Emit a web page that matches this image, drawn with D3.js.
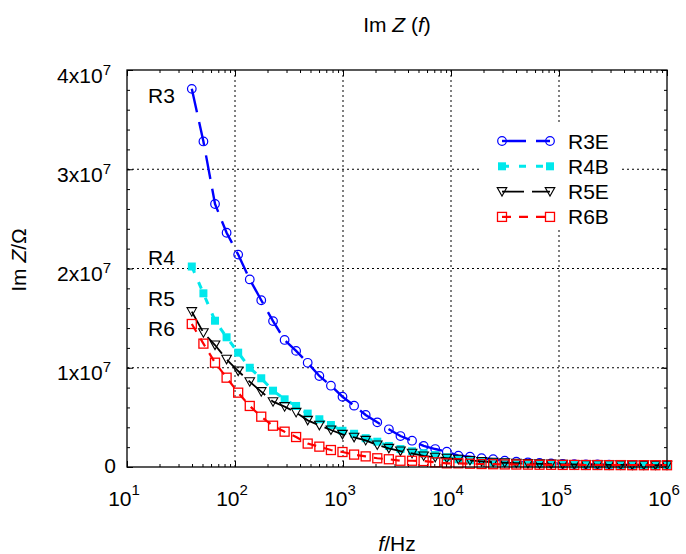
<!DOCTYPE html>
<html><head><meta charset="utf-8">
<script src="https://cdn.jsdelivr.net/npm/d3@7"></script>
<style>
html,body{margin:0;padding:0;background:#fff;}
text{font-family:Arial,"Liberation Sans",sans-serif;fill:#000;}
</style></head>
<body><div id="chart"></div>
<script>
// ---- data ----
const freqs = [39.8, 51.0, 65.3, 83.6, 107, 137, 175, 225, 288, 368, 471, 604, 773, 989,
  1267, 1622, 2077, 2659, 3404, 4359, 5581, 7143, 9146, 11710, 14990, 19190, 24570,
  31460, 40270, 51560, 66020, 84530, 108200, 138600, 177400, 227100, 290800, 372300,
  476700, 610300, 781400, 1000000];
// values in units of 1e7 Ohm
const r3e = [3.81, 3.28, 2.65, 2.36, 2.14, 1.89, 1.68, 1.47, 1.28, 1.17, 1.05, 0.917, 0.819, 0.708,
  0.618, 0.524, 0.450, 0.380, 0.312, 0.265, 0.212, 0.181, 0.154, 0.114, 0.104, 0.088, 0.078,
  0.063, 0.053, 0.047, 0.041, 0.036, 0.032, 0.029, 0.027, 0.025, 0.023, 0.022, 0.021, 0.020, 0.019, 0.018];
const r4b = [2.02, 1.75, 1.474, 1.307, 1.152, 1.00, 0.894, 0.769, 0.682, 0.615, 0.538, 0.481, 0.423, 0.365,
  0.335, 0.290, 0.255, 0.212, 0.181, 0.158, 0.138, 0.121, 0.098, 0.078, 0.068, 0.058, 0.050,
  0.045, 0.040, 0.036, 0.033, 0.030, 0.028, 0.026, 0.025, 0.024, 0.023, 0.022, 0.021, 0.020, 0.020, 0.019];
const r5e = [1.565, 1.353, 1.229, 1.085, 0.967, 0.859, 0.759, 0.658, 0.608, 0.550, 0.470, 0.420, 0.373, 0.329,
  0.299, 0.268, 0.222, 0.188, 0.161, 0.138, 0.111, 0.098, 0.088, 0.078, 0.066, 0.056, 0.048,
  0.043, 0.038, 0.034, 0.031, 0.029, 0.027, 0.025, 0.024, 0.023, 0.022, 0.021, 0.020, 0.019, 0.019, 0.018];
const r6b = [1.441, 1.243, 1.051, 0.900, 0.749, 0.615, 0.507, 0.416, 0.356, 0.302, 0.236, 0.205, 0.171, 0.151,
  0.125, 0.107, 0.088, 0.078, 0.063, 0.063, 0.060, 0.047, 0.037, 0.037, 0.033, 0.030, 0.028,
  0.026, 0.025, 0.024, 0.023, 0.022, 0.021, 0.021, 0.020, 0.020, 0.019, 0.019, 0.018, 0.018, 0.018, 0.018];
const seriesNames = ["R3E", "R4B", "R5E", "R6B"];
const annotNames = ["R3", "R4", "R5", "R6"];
const annotValues = [3.81, 2.02, 1.565, 1.441];
const xTickValues = [1e1, 1e2, 1e3, 1e4, 1e5, 1e6];
const xTickExps = ["1", "2", "3", "4", "5", "6"];
const yTickValues = [0, 1e7, 2e7, 3e7, 4e7];
const yTickMant = ["0", "1", "2", "3", "4"];
const gridX = [1e2, 1e3, 1e4, 1e5];
const gridY = [1e7, 2e7, 3e7];

// ---- layout ----
const W = 686, H = 554;
const L = 127, R = 667, T = 70, B = 467;
const svg = d3.select("#chart").append("svg").attr("width", W).attr("height", H);
const x = d3.scaleLog().domain([10, 1e6]).range([L, R]);
const y = d3.scaleLinear().domain([0, 4e7]).range([B, T]);

const styles = [
  {color: "#0000ff", width: 2.4, dash: "24,10", marker: "circle"},
  {color: "#00e8ec", width: 3, dash: "7,10", marker: "fsquare"},
  {color: "#000000", width: 1.8, dash: "22,8", marker: "tri"},
  {color: "#ff0000", width: 2.2, dash: "9,8", marker: "osquare"}
];
const allSeries = [r3e, r4b, r5e, r6b].map(arr => arr.map((v, i) => ({f: freqs[i], v: v * 1e7})));

// grid
const g = svg.append("g");
g.selectAll(".gx").data(gridX).enter().append("line")
  .attr("x1", d => x(d)).attr("x2", d => x(d)).attr("y1", T).attr("y2", B)
  .attr("stroke", "#000").attr("stroke-width", 1).attr("stroke-dasharray", "2,3");
g.selectAll(".gy").data(gridY).enter().append("line")
  .attr("x1", L).attr("x2", R).attr("y1", d => y(d)).attr("y2", d => y(d))
  .attr("stroke", "#000").attr("stroke-width", 1).attr("stroke-dasharray", "2,3");

// axes ticks (inward)
const minorX = [];
for (let e = 1; e < 6; e++) for (let k = 2; k <= 9; k++) minorX.push(k * Math.pow(10, e));
const minorY = d3.range(0, 4e7 + 1, 2e6);
function drawAxis(gen, transform) {
  svg.append("g").attr("transform", transform).call(gen)
    .call(s => s.select(".domain").remove())
    .call(s => s.selectAll("line").attr("stroke", "#000").attr("stroke-width", 1))
    .call(s => s.selectAll("text").remove());
}
drawAxis(d3.axisBottom(x).tickValues(minorX).tickSize(-3), `translate(0,${B})`);
drawAxis(d3.axisTop(x).tickValues(minorX).tickSize(-3), `translate(0,${T})`);
drawAxis(d3.axisBottom(x).tickValues(xTickValues).tickSize(-6), `translate(0,${B})`);
drawAxis(d3.axisTop(x).tickValues(xTickValues).tickSize(-6), `translate(0,${T})`);
drawAxis(d3.axisLeft(y).tickValues(minorY).tickSize(-3), `translate(${L},0)`);
drawAxis(d3.axisRight(y).tickValues(minorY).tickSize(-3), `translate(${R},0)`);
drawAxis(d3.axisLeft(y).tickValues(yTickValues).tickSize(-6), `translate(${L},0)`);
drawAxis(d3.axisRight(y).tickValues(yTickValues).tickSize(-6), `translate(${R},0)`);

// series
const line = d3.line().x(d => x(d.f)).y(d => y(d.v));
function drawMarker(sel, type, color) {
  if (type === "circle") {
    sel.append("circle").attr("r", 4.3).attr("fill", "none").attr("stroke", color).attr("stroke-width", 1.2);
  } else if (type === "fsquare") {
    sel.append("rect").attr("x", -4).attr("y", -4).attr("width", 8).attr("height", 8).attr("fill", color);
  } else if (type === "tri") {
    sel.append("path").attr("d", "M-4.8,-4 L4.8,-4 L0,4.5 Z").attr("fill", "none").attr("stroke", color).attr("stroke-width", 1.1);
  } else {
    sel.append("rect").attr("x", -4.5).attr("y", -4.5).attr("width", 9).attr("height", 9).attr("fill", "none").attr("stroke", color).attr("stroke-width", 1.3);
  }
}
allSeries.forEach((data, si) => {
  const st = styles[si];
  const sg = svg.append("g");
  sg.append("path").datum(data).attr("d", line).attr("fill", "none")
    .attr("stroke", st.color).attr("stroke-width", st.width).attr("stroke-dasharray", st.dash);
  sg.selectAll("g.m").data(data).enter().append("g")
    .attr("transform", d => `translate(${x(d.f)},${y(d.v)})`)
    .each(function() { drawMarker(d3.select(this), st.marker, st.color); });
});

// frame
svg.append("rect").attr("x", L).attr("y", T).attr("width", R - L).attr("height", B - T)
  .attr("fill", "none").attr("stroke", "#000").attr("stroke-width", 1.3);

// tick labels
const xl = svg.append("g");
xTickValues.forEach((v, i) => {
  const t = xl.append("text").attr("x", x(v) - 3).attr("y", 506).attr("text-anchor", "middle").style("font-size", "21px");
  t.append("tspan").text("10");
  t.append("tspan").attr("dy", -11).style("font-size", "15px").text(xTickExps[i]);
});
yTickValues.forEach((v, i) => {
  if (v === 0) {
    svg.append("text").attr("x", 116).attr("y", y(v) + 6).attr("text-anchor", "end").style("font-size", "21px").text("0");
  } else {
    const t = svg.append("text").attr("x", 111).attr("y", y(v) + 12.5).attr("text-anchor", "end").style("font-size", "21px");
    t.append("tspan").text(yTickMant[i] + "x10");
    t.append("tspan").attr("dy", -8).style("font-size", "15px").text("7");
  }
});

// titles
const title = svg.append("text").attr("x", 397).attr("y", 32).attr("text-anchor", "middle").style("font-size", "21px");
title.append("tspan").text("Im ");
title.append("tspan").style("font-style", "italic").text("Z");
title.append("tspan").text(" (");
title.append("tspan").style("font-style", "italic").text("f");
title.append("tspan").text(")");

const xt = svg.append("text").attr("x", 397).attr("y", 551).attr("text-anchor", "middle").style("font-size", "21px");
xt.append("tspan").style("font-style", "italic").text("f");
xt.append("tspan").text("/Hz");

const yt = svg.append("text").attr("transform", "translate(26,260) rotate(-90)").attr("text-anchor", "middle").style("font-size", "21px");
yt.append("tspan").text("Im ");
yt.append("tspan").style("font-style", "italic").text("Z");
yt.append("tspan").text("/Ω");

// annotations
const annotY = [103, 265, 306, 336];
annotNames.forEach((n, i) => {
  svg.append("text").attr("x", 148).attr("y", annotY[i]).style("font-size", "21px").text(n);
});

// legend
const lg = svg.append("g");
lg.append("rect").attr("x", 481).attr("y", 124).attr("width", 141).attr("height", 106).attr("fill", "#fff");
seriesNames.forEach((n, i) => {
  const st = styles[i];
  const cy = 141 + i * 25.3;
  lg.append("line").attr("x1", 502).attr("x2", 550).attr("y1", cy).attr("y2", cy)
    .attr("stroke", st.color).attr("stroke-width", st.width).attr("stroke-dasharray", st.dash);
  [502, 550].forEach(mx => {
    const mg = lg.append("g").attr("transform", `translate(${mx},${cy})`);
    drawMarker(mg, st.marker, st.color);
  });
  lg.append("text").attr("x", 568).attr("y", cy + 7.5).style("font-size", "21px").text(n);
});
</script></body></html>
